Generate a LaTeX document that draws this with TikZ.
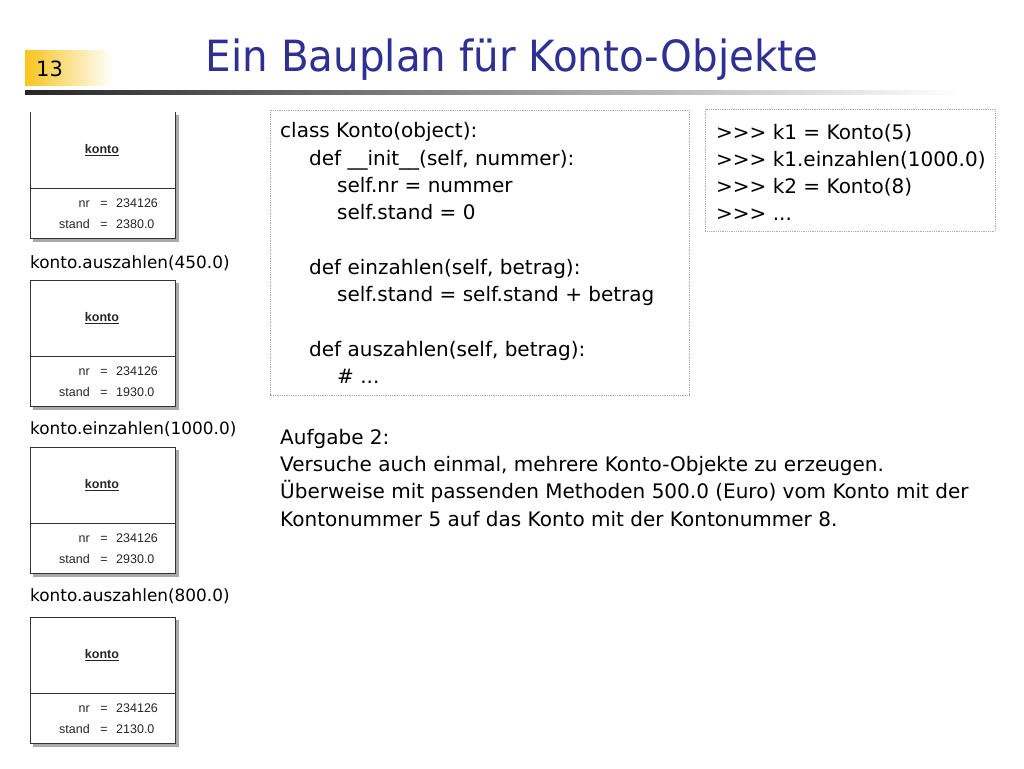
\documentclass[tikz,border=0pt]{standalone}
\usepackage{fontspec}
\setmainfont{DejaVu Sans}
\newfontfamily\titlefont{DejaVu Sans}[FakeStretch=0.94]
\newfontfamily\labelfont{DejaVu Sans}
\newfontfamily\umlfont{Liberation Sans}
\usetikzlibrary{positioning}
\definecolor{titleblue}{RGB}{46,49,146}
\definecolor{gold}{RGB}{248,196,30}
\definecolor{shadowgray}{RGB}{170,170,170}
\definecolor{dotgray}{RGB}{170,170,170}
\tikzset{
  codetext/.style={anchor=base west, inner sep=0pt, font=\fontsize{20}{24}\selectfont},
  calltext/.style={anchor=base west, inner sep=0pt, font=\labelfont\fontsize{16.9}{20}\selectfont},
  umltext/.style={inner sep=0pt, font=\umlfont\fontsize{12.5}{14}\selectfont, text=black!85},
  dotbox/.style={draw=dotgray, densely dotted, line width=0.8pt},
}
\newcommand{\umlobj}[4]{%
  \fill[shadowgray] (175,#2+3) rectangle (179,#2+130);
  \fill[shadowgray] (33,#2+126) rectangle (179,#2+130);
  \fill[white] (30,#2) rectangle (175,#2+126);
  #4
  \draw[line width=0.9pt, black!80] (30,#2+76) -- (175,#2+76);
  \node[umltext, font=\umlfont\bfseries\fontsize{12.5}{14}\selectfont] (name#1) at (102,#2+38) {\underline{konto}};
  \node[umltext, anchor=base east] (nrk#1) at (90,#2+95) {nr};
  \node[umltext, anchor=base] (nre#1) at (104,#2+95) {=};
  \node[umltext, anchor=base west] (nrv#1) at (116,#2+95) {234126};
  \node[umltext, anchor=base east] (stk#1) at (90,#2+116) {stand};
  \node[umltext, anchor=base] (ste#1) at (104,#2+116) {=};
  \node[umltext, anchor=base west] (stv#1) at (116,#2+116) {#3};
}
\begin{document}
\begin{tikzpicture}[x=1pt,y=-1pt]
\useasboundingbox (0,0) rectangle (1024,768);
\fill[white] (0,0) rectangle (1024,768);
% header
\shade[left color=gold, right color=white] (25,51) rectangle (113,85);
\node[anchor=base west, inner sep=0pt, font=\fontsize{21}{24}\selectfont] (num) at (36,76) {13};
\shade[left color=black!85, right color=white] (25,90) rectangle (960,94);
\node[anchor=base, inner sep=0pt, font=\titlefont\fontsize{43}{50}\selectfont, text=titleblue] (title) at (512,71) {Ein Bauplan für Konto-Objekte};
% UML objects
\umlobj{a}{112}{2380.0}{\draw[line width=0.9pt, black!80] (30,112) -- (30,238) -- (175,238) -- (175,112);}
\umlobj{b}{280}{1930.0}{\draw[line width=0.9pt, black!80] (30,280) rectangle (175,406);}
\umlobj{c}{447}{2930.0}{\draw[line width=0.9pt, black!80] (30,447) rectangle (175,573);}
\umlobj{d}{617}{2130.0}{\draw[line width=0.9pt, black!80] (30,617) rectangle (175,743);}
\node[calltext] (call1) at (30,268) {konto.auszahlen(450.0)};
\node[calltext] (call2) at (30,434) {konto.einzahlen(1000.0)};
\node[calltext] (call3) at (30,601) {konto.auszahlen(800.0)};
% code box
\draw[dotbox] (270,110) rectangle (689,395);
\node[codetext] (c1) at (280,137) {class Konto(object):};
\node[codetext] (c2) at (309,165) {def \_\_init\_\_(self, nummer):};
\node[codetext] (c3) at (337,192) {self.nr = nummer};
\node[codetext] (c4) at (337,219) {self.stand = 0};
\node[codetext] (c5) at (309,274) {def einzahlen(self, betrag):};
\node[codetext] (c6) at (337,301) {self.stand = self.stand + betrag};
\node[codetext] (c7) at (309,356) {def auszahlen(self, betrag):};
\node[codetext] (c8) at (337,383) {\# ...};
% shell box
\draw[dotbox] (705,109) rectangle (995,231);
\node[codetext] (s1) at (716,139) {>{}>{}> k1 = Konto(5)};
\node[codetext] (s2) at (716,166) {>{}>{}> k1.einzahlen(1000.0)};
\node[codetext] (s3) at (716,193) {>{}>{}> k2 = Konto(8)};
\node[codetext] (s4) at (716,220) {>{}>{}> ...};
% task
\node[codetext] (t1) at (280,444) {Aufgabe 2:};
\node[codetext] (t2) at (280,471) {Versuche auch einmal, mehrere Konto-Objekte zu erzeugen.};
\node[codetext] (t3) at (280,498) {Überweise mit passenden Methoden 500.0 (Euro) vom Konto mit der};
\node[codetext] (t4) at (280,526) {Kontonummer 5 auf das Konto mit der Kontonummer 8.};
\end{tikzpicture}
\end{document}
